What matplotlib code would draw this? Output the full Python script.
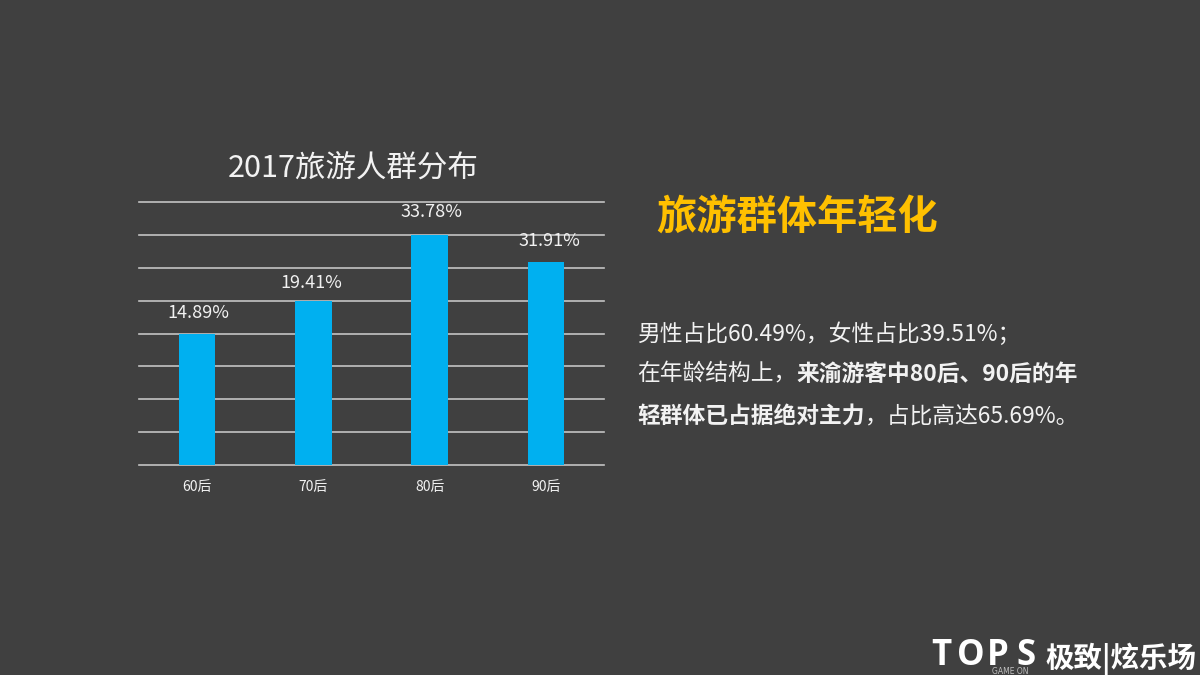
import matplotlib

matplotlib.use("Agg")
import matplotlib.pyplot as plt

plt.rcParams["font.family"] = ["Noto Sans CJK SC", "DejaVu Sans"]

BG = "#404040"
WHITE = "#F2F2F2"
W, H = 1200, 675

categories = ["60后", "70后", "80后", "90后"]
# bar heights as drawn, they do not follow the printed labels
bar_heights = [20.0, 24.9, 35.0, 30.9]
bar_labels = ["14.89%", "19.41%", "33.78%", "31.91%"]
grid_ticks = [0, 5, 10, 15, 20, 25, 30, 35, 40]

line_1 = [("男性占比60.49%，女性占比39.51%；", "normal")]
line_2 = [("在年龄结构上，", "normal"), ("来渝游客中80后、90后的年", "bold")]
line_3 = [("轻群体已占据绝对主力", "bold"), ("，占比高达65.69%。", "normal")]
logo_letters = ["T", "O", "P", "S"]

# label nudges in pixels, the source labels sit unevenly above the bars
LABEL_DX = [1.5, -2, 2, 4]
LABEL_DY = [21, 18, 23, 21]


def fx(px):
    return px / W


def fy(px):
    return 1 - px / H


def draw_runs(fig, x_px, y_px, runs, size):
    # mixed weights on one line, so each run starts where the last one ended
    renderer = fig.canvas.get_renderer()
    x = x_px
    for text, weight in runs:
        t = fig.text(fx(x), fy(y_px), text, color=WHITE, fontsize=size,
                     fontweight=weight, ha="left", va="center")
        x = t.get_window_extent(renderer).x1


fig = plt.figure(figsize=(12, 6.75), dpi=100, facecolor=BG)
ax = fig.add_axes([fx(139), fy(465), fx(465), 263 / H], facecolor=BG)

ax.set_axisbelow(True)
ax.bar(range(len(categories)), bar_heights, width=0.315, color="#00B0F0", zorder=3)
ax.set_xlim(-0.5, 3.5)
ax.set_ylim(0, 40)
ax.set_yticks(grid_ticks)
ax.yaxis.grid(True, color="#C4C4C4", linewidth=1.2, clip_on=False)
ax.tick_params(left=False, bottom=False, labelleft=False)
ax.set_xticks(range(len(categories)), categories, color=WHITE, fontsize=10)
ax.tick_params(axis="x", pad=7)
for spine in ax.spines.values():
    spine.set_visible(False)

for i, (height, label) in enumerate(zip(bar_heights, bar_labels)):
    ax.annotate(label, (i, height),
                xytext=(LABEL_DX[i] * 0.72, LABEL_DY[i] * 0.72),
                textcoords="offset points", ha="center", va="center",
                color=WHITE, fontsize=13, zorder=4)

fig.text(fx(353), fy(169), "2017旅游人群分布", color=WHITE, fontsize=22,
         ha="center", va="center")
fig.text(fx(797), fy(218), "旅游群体年轻化", color="#FFC000", fontsize=29,
         fontweight="bold", ha="center", va="center")

fig.canvas.draw()
draw_runs(fig, 637, 334, line_1, 16.4)
draw_runs(fig, 637, 374, line_2, 16.4)
draw_runs(fig, 637, 416, line_3, 16.4)

# logo, bottom right
for letter, x_px in zip(logo_letters, [931, 957, 987, 1016]):
    fig.text(fx(x_px), fy(656), letter, color="white", fontsize=25, fontweight="bold",
             family="Open Sans", ha="left", va="center")
fig.text(fx(1010), fy(671), "GAME ON", color="#BFBFBF", fontsize=5.5,
         family="DejaVu Sans", ha="center", va="center")
fig.text(fx(1045), fy(659), "极致|炫乐场", color="white", fontsize=20.5, fontweight="bold",
         ha="left", va="center")

fig.savefig("out.png", dpi=100, facecolor=BG)
